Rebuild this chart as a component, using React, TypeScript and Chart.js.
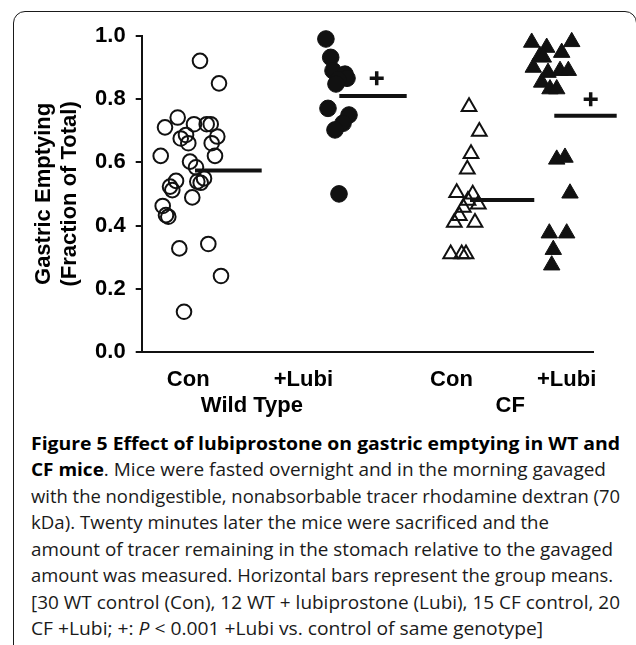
import React, { useEffect, useLayoutEffect, useRef } from 'react';
import { Chart, registerables } from 'chart.js';

Chart.register(...registerables);

// ---- Axis / tick definitions ----
const xTickPositions = [1.03, 2.44, 3.58, 6.86, 8.16, 9.41];
const xTickLabels: (string | string[])[] = ['Con', ['', 'Wild Type'], '+Lubi', 'Con', ['', 'CF'], '+Lubi'];
const yTickValues = [0, 0.2, 0.4, 0.6, 0.8, 1.0];
const yTitle = ['Gastric Emptying', '(Fraction of Total)'];

// ---- Data: Wild Type control (open circles) ----
const wtConValues = [0.92, 0.849, 0.741, 0.71, 0.72, 0.72, 0.72, 0.681, 0.686, 0.66, 0.66, 0.62, 0.62, 0.602, 0.584, 0.549, 0.539, 0.535, 0.541, 0.512, 0.523, 0.489, 0.462, 0.428, 0.433, 0.328, 0.342, 0.241, 0.128, 0.675];
const wtConX = [1.291, 1.712, 0.797, 0.516, 1.158, 1.439, 1.528, 1.674, 0.981, 1.032, 1.55, 1.623, 0.421, 1.07, 1.202, 1.38, 1.231, 1.306, 0.76, 0.678, 0.627, 1.12, 0.465, 0.589, 0.538, 0.833, 1.475, 1.756, 0.937, 0.864];

// ---- Data: Wild Type + lubiprostone (filled circles) ----
const wtLubiValues = [0.989, 0.931, 0.889, 0.878, 0.865, 0.86, 0.847, 0.77, 0.749, 0.723, 0.702, 0.5];
const wtLubiX = [4.079, 4.185, 4.236, 4.502, 4.546, 4.347, 4.302, 4.125, 4.59, 4.458, 4.28, 4.369];

// ---- Data: CF control (open triangles) ----
const cfConValues = [0.775, 0.697, 0.627, 0.578, 0.504, 0.499, 0.467, 0.457, 0.431, 0.41, 0.41, 0.31, 0.31, 0.31, 0.479];
const cfConX = [7.248, 7.476, 7.292, 7.21, 6.975, 7.33, 7.453, 7.121, 7.033, 6.922, 7.38, 6.842, 7.086, 7.181, 7.225];

// ---- Data: CF + lubiprostone (filled triangles) ----
const cfLubiValues = [0.978, 0.962, 0.98, 0.946, 0.936, 0.899, 0.889, 0.889, 0.852, 0.831, 0.831, 0.931, 0.883, 0.609, 0.615, 0.502, 0.376, 0.376, 0.324, 0.275];
const cfLubiX = [8.636, 8.968, 9.522, 9.3, 8.82, 8.671, 9.263, 9.447, 8.857, 9.041, 9.19, 8.893, 8.997, 9.19, 9.373, 9.484, 9.026, 9.411, 9.114, 9.079];

// ---- Group means (horizontal bars) ----
const groupMeans = [0.574, 0.809, 0.481, 0.747];
const meanBarStart = [1.18, 4.376, 7.27, 9.136];
const meanBarEnd = [2.657, 5.868, 8.693, 10.518];

// ---- Significance markers (+) ----
const sigX = [5.204, 9.942];
const sigY = [0.865, 0.799];

// ---- Caption ----
const captionLines: { parts: { t: string; b?: boolean; i?: boolean }[]; w: number }[] = [
  { parts: [{ t: 'Figure 5 Effect of lubiprostone on gastric emptying in WT and', b: true }], w: 589 },
  { parts: [{ t: 'CF mice', b: true }, { t: '. Mice were fasted overnight and in the morning gavaged' }], w: 575 },
  { parts: [{ t: 'with the nondigestible, nonabsorbable tracer rhodamine dextran (70' }], w: 589 },
  { parts: [{ t: 'kDa). Twenty minutes later the mice were sacrificed and the' }], w: 518 },
  { parts: [{ t: 'amount of tracer remaining in the stomach relative to the gavaged' }], w: 582 },
  { parts: [{ t: 'amount was measured. Horizontal bars represent the group means.' }], w: 582 },
  { parts: [{ t: '[30 WT control (Con), 12 WT + lubiprostone (Lubi), 15 CF control, 20' }], w: 589 },
  { parts: [{ t: 'CF +Lubi; +: ' }, { t: 'P', i: true }, { t: ' < 0.001 +Lubi vs. control of same genotype]' }], w: 512 },
];

const FONT = '"Liberation Sans", Arial, Helvetica, sans-serif';
const INK = '#111';

const pts = (xs: number[], ys: number[]) => ys.map((y, i) => ({ x: xs[i], y }));

export default function App() {
  const canvasRef = useRef<HTMLCanvasElement | null>(null);
  const lineRefs = useRef<(HTMLDivElement | null)[]>([]);

  useEffect(() => {
    const canvas = canvasRef.current;
    if (!canvas) return;
    const tickFont = { family: FONT, size: 22, weight: 'bold' as const, lineHeight: 1.2 };

    const meanSets = groupMeans.map((m, i) => ({
      type: 'line' as const,
      data: [
        { x: meanBarStart[i], y: m },
        { x: meanBarEnd[i], y: m },
      ],
      borderColor: INK,
      borderWidth: 4,
      pointRadius: 0,
      fill: false,
      clip: false as any,
      borderCapStyle: 'butt' as const,
    }));

    const chart = new Chart(canvas, {
      type: 'scatter',
      data: {
        datasets: [
          ...meanSets,
          {
            data: pts(sigX, sigY),
            pointStyle: 'cross',
            pointRadius: 7,
            borderWidth: 3.5,
            borderColor: INK,
            backgroundColor: INK,
            clip: false as any,
          },
          {
            data: pts(wtConX, wtConValues),
            pointStyle: 'circle',
            pointRadius: 7.3,
            borderWidth: 2,
            borderColor: INK,
            backgroundColor: 'rgba(0,0,0,0)',
            clip: false as any,
          },
          {
            data: pts(wtLubiX, wtLubiValues),
            pointStyle: 'circle',
            pointRadius: 8.3,
            borderWidth: 1,
            borderColor: INK,
            backgroundColor: INK,
            clip: false as any,
          },
          {
            data: pts(cfConX, cfConValues),
            pointStyle: 'triangle',
            pointRadius: 8.5,
            borderWidth: 2,
            borderColor: INK,
            backgroundColor: 'rgba(0,0,0,0)',
            clip: false as any,
          },
          {
            data: pts(cfLubiX, cfLubiValues),
            pointStyle: 'triangle',
            pointRadius: 9.5,
            borderWidth: 1,
            borderColor: INK,
            backgroundColor: INK,
            clip: false as any,
          },
        ] as any,
      },
      options: {
        animation: false,
        responsive: false,
        maintainAspectRatio: false,
        devicePixelRatio: 1,
        events: [],
        layout: { padding: { top: 35.5, right: 42.7, left: 0, bottom: 0 } },
        plugins: { legend: { display: false }, tooltip: { enabled: false }, title: { display: false } },
        scales: {
          x: {
            type: 'linear',
            min: 0,
            max: 10,
            afterBuildTicks: (s: any) => {
              s.ticks = xTickPositions.map((v) => ({ value: v }));
            },
            afterFit: (s: any) => {
              s.height = 67.7;
            },
            grid: { display: false, drawTicks: false },
            border: { display: true, color: INK, width: 2 },
            ticks: {
              autoSkip: false,
              maxRotation: 0,
              minRotation: 0,
              padding: 14,
              color: '#000',
              font: tickFont,
              callback: (_v: any, i: number) => xTickLabels[i] as any,
            },
          },
          y: {
            type: 'linear',
            min: 0,
            max: 1,
            afterBuildTicks: (s: any) => {
              s.ticks = yTickValues.map((v) => ({ value: v }));
            },
            afterFit: (s: any) => {
              s.width = 141.7;
            },
            grid: { drawOnChartArea: false, drawTicks: true, tickLength: 6, color: INK, lineWidth: 2 },
            border: { display: true, color: INK, width: 2 },
            ticks: {
              padding: 10,
              color: '#000',
              font: tickFont,
              callback: (v: any) => Number(v).toFixed(1),
            },
            title: {
              display: true,
              text: yTitle,
              color: '#000',
              font: tickFont,
              padding: { top: 30.8, bottom: 0 },
            },
          },
        },
      } as any,
    });
    return () => chart.destroy();
  }, []);

  useLayoutEffect(() => {
    lineRefs.current.forEach((el, i) => {
      if (!el) return;
      el.style.transform = 'none';
      const w = el.getBoundingClientRect().width;
      if (w > 0) el.style.transform = `scaleX(${captionLines[i].w / w})`;
    });
  }, []);

  return (
    <div
      style={{
        position: 'absolute',
        left: 0,
        top: 0,
        width: 636,
        height: 645,
        overflow: 'hidden',
        background: '#fff',
      }}
    >
      <div
        style={{
          position: 'absolute',
          left: 13,
          top: 11,
          width: 624,
          height: 700,
          border: '1.5px solid #1a1a1a',
          borderRadius: 12,
          boxSizing: 'border-box',
        }}
      />
      <canvas
        ref={canvasRef}
        width={636}
        height={420}
        style={{ position: 'absolute', left: 0, top: 0, width: 636, height: 420, display: 'block' }}
      />
      <div style={{ position: 'absolute', left: 31, top: 429.5 }}>
        {captionLines.map((ln, i) => (
          <div key={i} style={{ height: 26.5, lineHeight: '26.5px' }}>
            <div
              ref={(el) => {
                lineRefs.current[i] = el;
              }}
              style={{
                display: 'inline-block',
                whiteSpace: 'nowrap',
                transformOrigin: '0 50%',
                fontFamily: '"Open Sans", "Noto Sans", sans-serif',
                fontSize: 18.5,
                color: '#1a1a1a',
              }}
            >
              {ln.parts.map((p, j) => (
                <span
                  key={j}
                  style={{ fontWeight: p.b ? 700 : 400, fontStyle: p.i ? 'italic' : 'normal', color: p.b ? '#000' : '#1a1a1a' }}
                >
                  {p.t}
                </span>
              ))}
            </div>
          </div>
        ))}
      </div>
    </div>
  );
}
